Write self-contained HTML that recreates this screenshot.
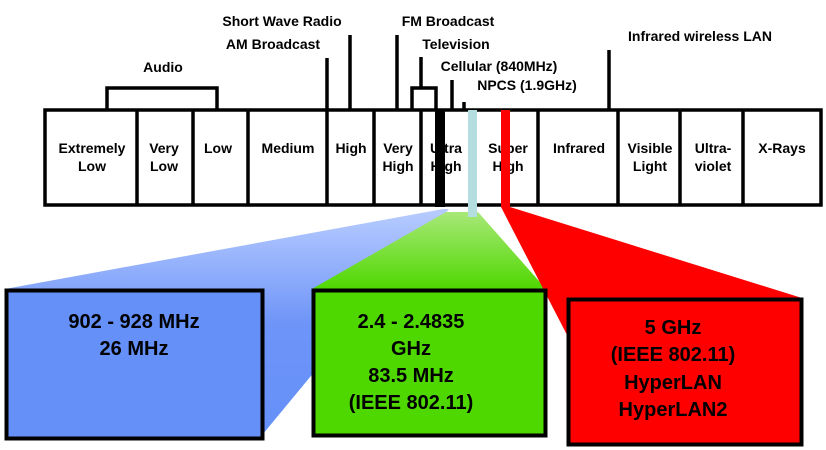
<!DOCTYPE html>
<html><head><meta charset="utf-8"><style>
html,body{margin:0;padding:0;background:#fff;width:826px;height:450px;overflow:hidden}
svg{display:block}
text{font-family:"Liberation Sans","Noto Sans CJK KR",sans-serif;font-weight:bold;fill:#000}
</style></head><body>
<svg width="826" height="450" viewBox="0 0 826 450" xmlns="http://www.w3.org/2000/svg">
<defs>
<linearGradient id="gb" x1="0" y1="0" x2="0" y2="1"><stop offset="0" stop-color="#b8ccff"/><stop offset="0.5" stop-color="#6e94f8"/><stop offset="1" stop-color="#6490f8"/></linearGradient>
<linearGradient id="gg" x1="0" y1="0" x2="0" y2="1"><stop offset="0" stop-color="#a8e878"/><stop offset="1" stop-color="#4fd800"/></linearGradient>
</defs>
<!-- fans -->
<polygon points="5,289 443,209 449,209 258,440 5,440" fill="url(#gb)"/>
<polygon points="312,289 446,212 478,212 546,289" fill="url(#gg)"/>
<polygon points="501,207 510,207 802,298 567,298 567,335" fill="#ff0000"/>
<!-- boxes bottom -->
<rect x="6.5" y="290.5" width="256" height="148" fill="#6490f8" stroke="#000" stroke-width="4"/>
<rect x="313.5" y="290.5" width="232" height="145" fill="#4fd800" stroke="#000" stroke-width="4"/>
<rect x="568.5" y="299.5" width="233" height="145" fill="#ff0000" stroke="#000" stroke-width="4"/>
<g font-size="20" text-anchor="middle">
<text x="134" y="328">902 - 928 MHz</text>
<text x="134" y="355">26 MHz</text>
<text x="411" y="328">2.4 - 2.4835</text>
<text x="411" y="355">GHz</text>
<text x="411" y="382">83.5 MHz</text>
<text x="411" y="409">(IEEE 802.11)</text>
<text x="673" y="334">5 GHz</text>
<text x="673" y="361">(IEEE 802.11)</text>
<text x="673" y="389">HyperLAN</text>
<text x="673" y="416">HyperLAN2</text>
</g>
<!-- spectrum box -->
<rect x="45" y="110" width="776" height="95" fill="#fff" stroke="#000" stroke-width="3.5"/>
<g stroke="#000" stroke-width="3.5" fill="none">
<line x1="137" y1="110" x2="137" y2="205"/>
<line x1="193" y1="110" x2="193" y2="205"/>
<line x1="248" y1="110" x2="248" y2="205"/>
<line x1="327" y1="58" x2="327" y2="205"/>
<line x1="374" y1="110" x2="374" y2="205"/>
<line x1="421" y1="110" x2="421" y2="205"/>
<line x1="538" y1="110" x2="538" y2="205"/>
<line x1="618" y1="110" x2="618" y2="205"/>
<line x1="680" y1="110" x2="680" y2="205"/>
<line x1="743" y1="110" x2="743" y2="205"/>
<polyline points="107,110 107,88 217,88 217,110"/>
<line x1="350" y1="35" x2="350" y2="110"/>
<line x1="397" y1="35" x2="397" y2="110"/>
<polyline points="412,110 412,88 436,88 436,110"/>
<line x1="421" y1="57" x2="421" y2="88"/>
<line x1="452" y1="80" x2="452" y2="110"/>
<line x1="464" y1="102" x2="464" y2="110"/>
<line x1="609" y1="50" x2="609" y2="110"/>
</g>
<g font-size="14" text-anchor="middle">
<text x="92" y="153">Extremely</text><text x="92" y="171">Low</text>
<text x="164" y="153">Very</text><text x="164" y="171">Low</text>
<text x="218" y="153">Low</text>
<text x="288" y="153">Medium</text>
<text x="351" y="153">High</text>
<text x="398" y="153">Very</text><text x="398" y="171">High</text>
<text x="446" y="153">Ultra</text><text x="446" y="171">High</text>
<text x="508" y="153">Super</text><text x="508" y="171">High</text>
<text x="579" y="153">Infrared</text>
<text x="650" y="153">Visible</text><text x="650" y="171">Light</text>
<text x="713" y="153">Ultra-</text><text x="713" y="171">violet</text>
<text x="782" y="153">X-Rays</text>
<text x="163" y="72">Audio</text>
<text x="282" y="26">Short Wave Radio</text>
<text x="273" y="49">AM Broadcast</text>
<text x="448" y="26">FM Broadcast</text>
<text x="456" y="49">Television</text>
<text x="499" y="71">Cellular (840MHz)</text>
<text x="527" y="90">NPCS (1.9GHz)</text>
<text x="700" y="41">Infrared wireless LAN</text>
</g>
<!-- bars -->
<rect x="435" y="110" width="10" height="97" fill="#000"/>
<rect x="468" y="110" width="9" height="107" fill="#b4dde0"/>
<rect x="501" y="110" width="9" height="97" fill="#ff0000"/>
</svg>
</body></html>
